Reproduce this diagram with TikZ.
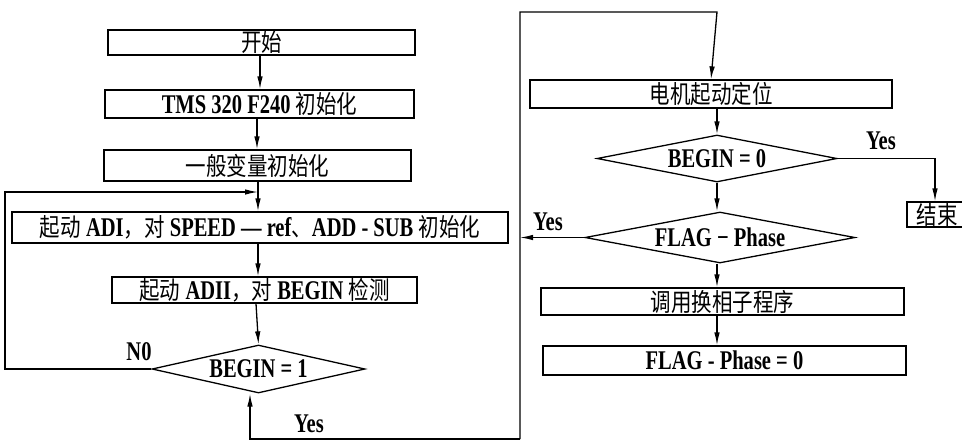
\documentclass[tikz,border=0pt]{standalone}
\usepackage{fontspec}
\setmainfont{Liberation Serif}[FakeStretch=0.76]
\newfontfamily\cjkfont{Noto Sans CJK SC}[FakeStretch=0.82]
\newcommand\zh[1]{{\cjkfont\mdseries\fontsize{25}{25}\selectfont #1}}
\usetikzlibrary{shapes.geometric,arrows.meta}
\begin{document}
\begin{tikzpicture}[x=1pt,y=-1pt,
  txt/.style={font=\fontsize{27}{27}\selectfont\bfseries},
  box/.style={draw, line width=1.3pt, inner sep=0pt, txt},
  dia/.style={draw, diamond, line width=1.3pt, inner sep=0pt, txt},
  lbl/.style={inner sep=0pt, txt},
  conn/.style={line width=1.3pt},
  arr/.style={conn, -{Latex[length=13pt,width=5.5pt]}}]
\useasboundingbox (0,0) rectangle (962,440);
% left column
\node[box, minimum width=307, minimum height=25] (start) at (261.5,42.5) {\zh{开始}};
\node[box, minimum width=309, minimum height=28] (tms) at (259.5,104) {TMS 320 F240 \zh{初始化}};
\node[box, minimum width=307, minimum height=31] (gen) at (257.5,165.5) {\zh{一般变量初始化}};
\node[box, minimum width=496, minimum height=31] (adi) at (260,227.5) {\zh{起动} ADI\zh{，对} SPEED — ref\zh{、}ADD - SUB \zh{初始化}};
\node[box, minimum width=305, minimum height=26] (adii) at (264.5,290) {\zh{起动} ADII\zh{，对} BEGIN \zh{检测}};
\node[dia, aspect=4.4, minimum width=213, minimum height=48] (d1) at (258.5,369) {BEGIN = 1};
% right column
\node[box, minimum width=362, minimum height=28] (motor) at (711,94) {\zh{电机起动定位}};
\node[dia, aspect=5.1, minimum width=240, minimum height=47] (d2) at (717,158.5) {BEGIN = 0};
\node[box, minimum width=60, minimum height=25] (end) at (937,214.5) {\zh{结束}};
\node[dia, aspect=5.3, minimum width=270, minimum height=51] (d3) at (720,237.5) {FLAG − Phase};
\node[box, minimum width=363, minimum height=27] (call) at (722.5,301.5) {\zh{调用换相子程序}};
\node[box, minimum width=363, minimum height=29] (flag0) at (724.5,360.5) {FLAG - Phase = 0};
% labels
\node[lbl] (no) at (139,352) {N0};
\node[lbl] (yes1) at (309,424) {Yes};
\node[lbl] (yes2) at (881,141) {Yes};
\node[lbl] (yes3) at (548,222) {Yes};
% coordinates
\coordinate (loopx) at (5,369);
\coordinate (loopt) at (5,192);
\coordinate (loopin) at (258,192);
\coordinate (bl) at (250,439);
\coordinate (br) at (520,439);
\coordinate (tr) at (520,12);
\coordinate (tt) at (717,12);
\coordinate (vl) at (520,237.5);
\coordinate (endc) at (935,158.5);
% connectors left
\draw[arr] (start.south -| 260,0) -- (tms.north -| 260,0);
\draw[arr] (tms.south -| 257,0) -- (gen.north -| 257,0);
\draw[arr] (gen.south -| 258,0) -- (adi.north -| 258,0);
\draw[arr] (adi.south -| 258,0) -- (adii.north -| 258,0);
\draw[arr] (adii.south -| 256,0) -- (d1.north);
\draw[arr] (d1.west) -- (loopx) -- (loopt) -- (loopin);
\draw[arr] (br) -- (bl) -- (bl |- d1.south);
% connectors right
\draw[arr] (br) -- (tr) -- (tt) -- (motor.north);
\draw[arr] (motor.south -| d2) -- (d2.north);
\draw[arr] (d2.east) -- (endc) -- (end.north -| endc);
\draw[arr] (d2.south) -- (d3.north -| d2);
\draw[arr] (d3.west) -- (vl);
\draw[arr] (d3.south -| d2) -- (call.north -| d2);
\draw[arr] (call.south -| d2) -- (flag0.north -| d2);
\end{tikzpicture}
\end{document}
